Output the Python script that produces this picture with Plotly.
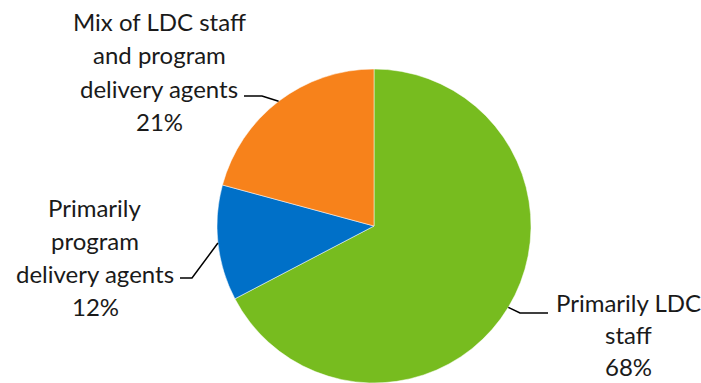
import math
import plotly.graph_objects as go

# Data
categories = ["Primarily LDC staff", "Primarily program delivery agents",
              "Mix of LDC staff and program delivery agents"]
values = [68, 12, 21]
label_lines = [
    ["Primarily LDC", "staff"],
    ["Primarily", "program", "delivery agents"],
    ["Mix of LDC staff", "and program", "delivery agents"],
]
colors = ["#77BC1F", "#0070C8", "#F7821B"]

W, H = 701, 383
CX, CY, R = 374, 226, 157  # pie centre / radius in pixels

FONT = dict(family="Lato, Carlito, Calibri, sans-serif", size=24, color="#1a1a1a")
LINE_H = 33

# label block placement (centre x, first line y) and leader elbows
label_pos = [(628, 302), (95, 207), (159, 22)]
elbow = [((520, 313), (548, 313)), ((192, 278), (180, 278)), ((262, 96), (244, 96))]


def px(x, y):
    return x / W, 1 - y / H


fig = go.Figure(go.Pie(
    labels=categories, values=values, sort=False, direction="clockwise",
    rotation=0, marker=dict(colors=colors, line=dict(color="white", width=0.5)),
    textinfo="none", hoverinfo="label+value", showlegend=False,
    domain=dict(x=[(CX - R) / W, (CX + R) / W], y=[0, 2 * R / H]),
))

total = sum(values)
cum = 0
annotations = []
shapes = []
for i, v in enumerate(values):
    mid = (cum + v / 2) / total * 2 * math.pi
    cum += v
    ex = CX + R * math.sin(mid)
    ey = CY - R * math.cos(mid)
    (bx, by), (tx, ty) = elbow[i]
    p0, p1, p2 = px(ex, ey), px(bx, by), px(tx, ty)
    shapes.append(dict(type="path", xref="paper", yref="paper",
                       path=f"M {p0[0]} {p0[1]} L {p1[0]} {p1[1]} L {p2[0]} {p2[1]}",
                       line=dict(color="black", width=1.5)))
    lx, ly = label_pos[i]
    lines = label_lines[i] + [f"{v}%"]
    for k, t in enumerate(lines):
        gap = LINE_H if i else LINE_H - 1
        ax, ay = px(lx, ly + k * gap)
        annotations.append(dict(text=t, x=ax, y=ay, xref="paper", yref="paper",
                                xanchor="center", yanchor="middle", showarrow=False,
                                borderpad=0, font=FONT))

fig.update_layout(width=W, height=H, margin=dict(l=0, r=0, t=0, b=0),
                  paper_bgcolor="white", plot_bgcolor="white",
                  annotations=annotations, shapes=shapes)
fig.write_html("out.html")
